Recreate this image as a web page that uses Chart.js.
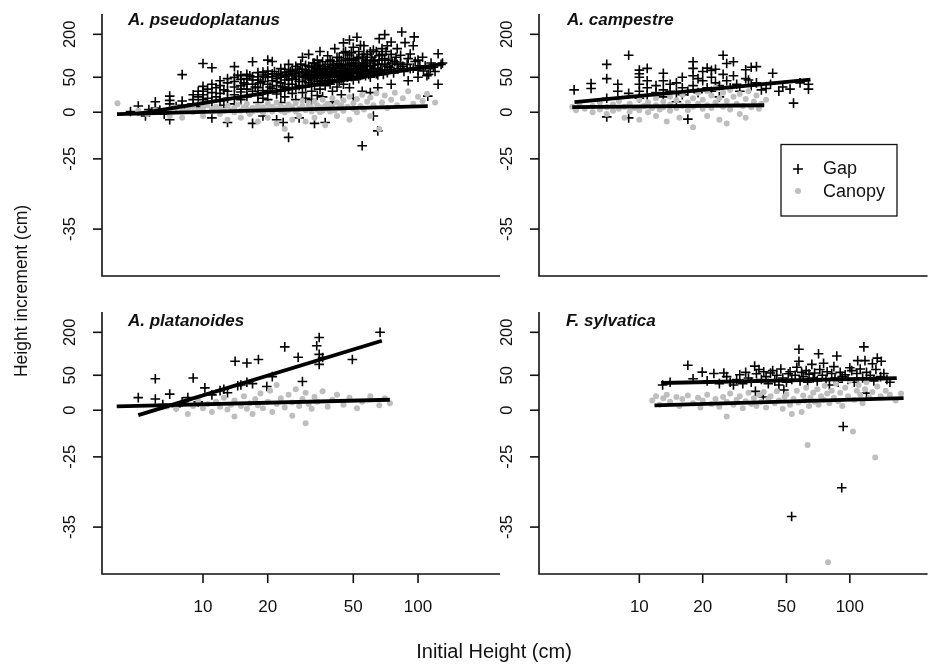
<!DOCTYPE html>
<html><head><meta charset="utf-8">
<script src="https://cdn.jsdelivr.net/npm/chart.js@4.4.1/dist/chart.umd.min.js"></script>
<style>
html,body{margin:0;padding:0;background:#fff;overflow:hidden}
#wrap{position:relative;width:932px;height:668px}
canvas{position:absolute;left:0;top:0}
</style>
</head><body><div id="wrap">
<canvas id="c0" width="932" height="668"></canvas>
<canvas id="c1" width="932" height="668"></canvas>
<canvas id="c2" width="932" height="668"></canvas>
<canvas id="c3" width="932" height="668"></canvas>
</div>
<script>
// ---------- data (x = initial height cm, y = height increment cm) ----------
const SPECIES = ['A. pseudoplatanus', 'A. campestre', 'A. platanoides', 'F. sylvatica'];
const SERIES = ['Gap', 'Canopy'];
const Y_TICKS = [200, 50, 0, -25, -35];
const X_TICKS = [10, 20, 50, 100];
const X_TITLE = 'Initial Height (cm)';
const Y_TITLE = 'Height increment (cm)';

const gapPseudo = [
[4.6,1],[5,9],[5.4,-2],[5.6,4],[6,15],[6,6],[6.3,3],[6.6,-1],[7,23],[7,17],[7,12],[7,-4],[7.5,8],[8,59],[8,16],[8,10],[8.5,6],[9,25],[9,18],[9,12],[9.5,30],[9.5,22],[9.5,8],
[10,98],[10,37],[10,30],[10,25],[10,18],[10,12],[10.5,33],[10.5,20],[11,83],[11,40],[11,28],[11,15],[11,-3],[11.5,35],[11.5,22],[12,45],[12,38],[12,27],[12,16],[12.5,32],[12.5,10],[13,48],[13,42],[13,30],[13,20],[13,-5.5],
[14,87],[14,50],[14,44],[14,36],[14,25],[14,12],[15,55],[15,47],[15,38],[15,29],[15,18],[15.5,42],[16,60],[16,48],[16,33],[16,22],[16,5],[17,104],[17,52],[17,40],[17,30],[17,-6],[18,66],[18,46],[18,35],[18,24],[18,14],[19,58],[19,44],[19,31],[19,20],[19,-2],
[20,110],[20,72],[20,51],[20,40],[20,30],[20,18],[21,105],[21,62],[21,45],[21,34],[22,56],[22,48],[22,38],[22,26],[22,-4],[23,80],[23,58],[23,42],[23,30],[23,14],[23.6,-5.5],[24,68],[24,52],[24,36],[24,22],[25,-13.5],[25,95],[25,60],[25,46],[25,33],[26,75],[26,55],[26,40],[26,27],[27,88],[27,63],[27,47],[27,35],[27,18],[28,70],[28,52],[28,38],[28,-3],[29,120],[29,78],[29,58],[29,44],[29,28],
[30,92],[30,65],[30,50],[30,36],[30,20],[31,130],[31,72],[31,55],[31,42],[32,84],[32,60],[32,46],[32,30],[32,18],[33,100],[33,68],[33,52],[33,38],[33,-6],[34,110],[34,76],[34,57],[34,44],[34,24],[35,140],[35,90],[35,64],[35,48],[35,33],[36,82],[36,60],[36,45],[36,22],[37,-5.5],[37,70],[37,52],[37,38],[38,125],[38,95],[38,66],[38,50],[39,78],[39,58],[39,40],[40,105],[40,85],[40,62],[40,46],[40,30],[40,15],[41,150],[41,72],[41,55],[42,98],[42,68],[42,50],[42,36],[43,118],[43,80],[43,60],[43,44],[44,88],[44,64],[44,48],[44,25],[45,170],[45,135],[45,75],[45,56],[45,40],
[46,110],[46,82],[46,62],[47,95],[47,68],[47,50],[48,180],[48,128],[48,78],[48,58],[48,35],[49,100],[49,72],[49,52],[50,155],[50,88],[50,64],[50,46],[50,20],[52,190],[52,115],[52,80],[52,58],[53,140],[53,92],[53,68],[53,48],[54,162],[55,-18],[55,120],[55,85],[55,62],[55,30],[56,160],[56,98],[56,72],[57,108],[57,78],[57,55],[58,130],[58,88],[60,139],[60,100],[60,70],[60,50],[60,28],[62,-2],[62,145],[62,92],[62,66],[63,110],[65,-10],[65,80],[65,58],[65,35],[66,185],[66,125],[66,70],[68,150],[68,95],[70,199],[70,115],[70,75],
[72,160],[72,88],[75,173],[75,130],[75,78],[75,40],[78,105],[80,150],[80,95],[83,127],[84,208],[85,88],[87,171],[90,115],[90,45],[92,131],[95,160],[96,191],[95,82],[100,75],[100,110],[100,50],[105,120],[108,90],[110,55],[111,23],[112,60],[115,100],[118,85],[120,70],[124,132],[124,40],[128,95],[130,100],
[14.5,58],[15,33],[16,40],[16.5,55],[17,46],[17.5,36],[18,52],[18.5,42],[19,68],[19.5,50],[20,60],[20.5,36],[21,52],[21.5,70],[22,44],[22.5,62],[23,50],[23.5,36],[24,78],[24,46],[24.5,58],[25,40],[25.5,70],[26,48],[26.5,62],[27,54],[27.5,78],[28,44],[28.5,96],[29,66],[29.5,50],[30,76],[30.5,58],[31,88],[31.5,48],[32,70],[32.5,100],[33,60],[33.5,80],[34,50],[34.5,92],[35,72],[35.5,56],[36,104],[36.5,68],[37,88],[37.5,60],[38,78],[38.5,46],[39,110],[39.5,70],[40,54],[40.5,92],[41,64],[41.5,82],[42,120],[42.5,58],[43,96],[43.5,70],[44,108],[44.5,54],[45,90],[46,140],[46,72],[47,115],[47,58],[48,92],[49,135],[49,64],[50,110],[51,78],[51,98],[52,66],[53,120],[54,86],[54,56],[55,100],[56,130],[56,62],[57,92],[58,75],[58,110],[59,60],[60,88],[61,120],[61,70],[62,105],[63,80],[64,140],[64,62],[65,96],[66,110],[67,76],[68,130],[69,60],[70,95],[71,140],[72,66],[73,110],[74,85],[76,100],[77,65],[79,120],[81,80],[83,100],[86,70],[89,95],[92,80],[97,105],[102,90],[106,72],[114,80]
];
const canopyPseudo = [
[4,13],[5,2],[5.5,-1],[6,3],[6.5,1],[7,-2],[7,4],[7.5,6],[8,2],[8,-3],[8.5,5],[9,8],[9,0],[9.5,3],[10,6],[10,-2],[10.5,10],[11,1],[11,4],[11.5,8],[12,-1],[12,5],[12.5,2],[13,9],[13,-4],[13.5,3],[14,6],[14,0],[14.5,11],[15,2],[15,-3],[15.5,7],[16,4],[16,12],[16.5,-1],[17,6],[17,1],[18,9],[18,-5],[18,3],[19,7],[19,0],[20,12],[20,4],[20,-3],[21,8],[21,1],[22,-6],[22,5],[22,14],[23,2],[23,9],[24,-9],[24,6],[24,0],[25,11],[25,3],[26,-4],[26,7],[27,13],[27,1],[28,5],[28,-2],[29,9],[29,16],[30,3],[30,-5],[31,8],[31,12],[32,1],[32,6],[33,15],[33,-3],[34,4],[34,10],[35,7],[35,0],[36,18],[36,2],[37,-7],[37,9],[38,5],[38,12],[39,1],[40,8],[40,20],[41,3],[42,14],[42,-2],[43,6],[44,10],[45,17],[45,2],[47,8],[48,22],[48,-4],[50,5],[50,13],[52,19],[52,0],[54,9],[55,25],[56,4],[58,15],[60,-2],[60,21],[62,10],[64,27],[66,-9],[68,14],[70,24],[72,6],[75,18],[78,28],[80,10],[85,20],[90,30],[95,12],[100,22],[105,16],[110,26],[120,14]
];
const gapCampestre = [
[4.9,32],[5.9,41],[5.9,34],[7,95],[7,48],[7,20],[7,-2.5],[7.9,40],[7.9,30],[8.9,127],[8.9,27],[8.9,-3],[10,75],[10,62],[10,50],[10,40],[10,30],[10,20],[10.9,81],[10.9,45],[10.9,35],[10.9,25],[12,38],[12,28],[13,64],[13,45],[13,32],[13,22],[14,40],[14,30],[15,42],[15,28],[15,15],[16,50],[16,35],[16,25],[17,-3.7],[17,30],[18,104],[18,81],[18,55],[18,38],[19,48],[19,28],[20,70],[20,45],[21,82],[21,35],[22,74],[22,50],[22,30],[23,78],[23,42],[24,38],[24,22],[25,127],[25,60],[26,98],[26,45],[27,35],[28,104],[28,55],[29,40],[30,30],[32,76],[32,48],[33,46],[34,85],[34,38],[36,87],[36,42],[38,32],[40,34],[42,40],[43,64],[46,30],[48,36],[52,33],[54,13],[58,42],[63.6,40],[63.6,33]
];
const canopyCampestre = [
[4.8,8],[5,3],[5.2,12],[5.5,5],[6,0],[6,9],[6.5,14],[6.5,4],[7,-1],[7,7],[7.5,11],[7.5,2],[8,16],[8,5],[8.5,-3],[8.5,8],[9,12],[9,1],[9.5,6],[10,18],[10,3],[10,-4],[10.5,9],[11,14],[11,0],[11.5,6],[12,20],[12,-2],[12,10],[12.5,4],[13,15],[13,7],[13.5,-5],[14,22],[14,11],[14,2],[15,17],[15,6],[15.5,-3],[16,25],[16,9],[17,14],[17,3],[18,-8],[18,20],[18,8],[19,28],[19,12],[20,5],[20,18],[21,-2],[21,30],[21,10],[22,24],[22,6],[23,35],[23,14],[24,-4],[24,20],[25,8],[25,28],[26,-6],[26,16],[27,32],[27,4],[28,22],[29,12],[30,26],[30,-1],[31,9],[32,-3],[32,19],[33,30],[34,7],[35,15],[36,24],[37,5],[38,12],[40,18]
];
const gapPlatanoides = [
[5,18],[6,45],[6,16],[6.5,8],[7,23],[7.5,5],[8,12],[8.5,18],[9,46],[9.5,12],[10.2,32],[11,22],[12,28],[12.5,30],[13,25],[14.1,99],[14.5,35],[15,36],[16,93],[16,40],[17,38],[18.1,105],[19.8,34],[21,48],[24,149],[27.7,113],[29,41],[33.8,153],[34.7,182],[34.7,123],[34.7,88],[36,112],[49.5,105],[66.6,200]
];
const canopyPlatanoides = [
[6.8,5],[7.5,2],[8,10],[8.5,-2],[9,6],[9.5,14],[10,3],[10.5,9],[11,-1],[11.5,12],[12,5],[12.5,18],[13,1],[13.5,8],[14,-3.3],[14,14],[15,6],[15.5,20],[16,2],[16.5,10],[17,-2],[17.5,16],[18,7],[18.5,24],[19,3],[20,12],[20.5,28],[21,-1],[22,9],[22,36],[23,17],[24,4],[25,22],[26,-3],[26,11],[27,30],[28,6],[29,16],[30,-7],[30,25],[31,9],[32,2],[33,19],[34,12],[36,27],[38,5],[40,15],[42,22],[45,8],[48,18],[52,3],[55,12],[60,20],[66,7],[70,17],[74,10]
];
const gapSylvatica = [
[12.9,36],[14,40],[17,85],[18,45],[19.9,61],[21,42],[22.6,56],[24,38],[25.2,58],[26,48],[27,40],[28,36],[29,44],[30,52],[31,38],[32,60],[33,46],[34,40],[35.3,82],[35.6,27],[36,55],[37,70],[38,44],[38.8,19],[39,62],[40,48],[41,38],[42,58],[43,66],[44,42],[45,50],[46,36],[47,72],[48,46],[48.6,29],[50,40],[51,55],[52,62],[52.9,-33.5],[53,44],[55,50],[56,78],[57.3,141],[57.3,99],[58,42],[59,60],[60,48],[62,66],[63,40],[64,54],[66,88],[67,46],[68,58],[70,42],[71,125],[72,70],[74,50],[75,92],[77,44],[78,62],[80,36],[82,56],[84,80],[85,46],[86.7,117],[88,40],[90,60],[91.5,-29.4],[92,48],[93,-8.7],[95,52],[98,44],[100,76],[102,66],[105,40],[108,56],[109,101],[112,72],[115,46],[116.6,149],[118,101],[120,24.5],[120,60],[125,50],[128,90],[130,42],[133,70],[135,110],[140,48],[141,99],[145,56],[150,44],[155,40]
];
const canopySylvatica = [
[11.5,14],[12,20],[12.5,8],[13,17],[13.5,22],[14,12],[15,19],[15.5,6],[16,16],[17,21],[18,10],[19,18],[19.5,4],[20,14],[21,22],[22,9],[23,16],[24,5],[25,19],[26,-3.3],[26,12],[27,24],[28,8],[29,15],[30,20],[31,3],[32,13],[33,25],[34,9],[35,17],[36,6],[37,22],[38,12],[39,26],[40,4],[41,16],[42,20],[44,10],[45,27],[46,14],[48,2],[49,19],[50,23],[52,8],[53,-2],[54,16],[56,28],[57,11],[59,-1],[60,21],[61,14],[62,32],[63,-18.7],[64,6],[65,18],[67,25],[68,12],[70,30],[71,8],[73,20],[75,15],[76,35],[78,24],[78.8,-40],[80,10],[82,28],[84,18],[86,38],[88,13],[90,25],[92,6],[95,32],[98,20],[100,42],[103.5,-11.4],[105,15],[108,28],[110,36],[112,22],[115,10],[118,30],[120,40],[124,18],[128,26],[132,-25.1],[135,34],[140,20],[148,28],[155,22],[165,14],[175,24]
];
// fitted lines (endpoints)
const fitGapPseudo = [[4.93,-0.9],[130.6,97]];
const fitCanopyPseudo = [[3.98,-1],[111,8.8]];
const fitGapCampestre = [[4.92,14.4],[65,46.6]];
const fitCanopyCampestre = [[4.8,7.3],[39.2,10]];
const fitGapPlatanoides = [[5.0,-2.6],[67.9,170.5]];
const fitCanopyPlatanoides = [[3.97,5.6],[74,15]];
const fitGapSylvatica = [[12.7,38.9],[167,46]];
const fitCanopySylvatica = [[11.8,7],[180,17.4]];

// ---------- layout / style (not data) ----------
const TICK_POS = {'-35': 17.7, '-25': 44.2, '0': 61.8, '50': 75.0, '200': 91.2}; // axis units 0..100
const FONT = '"Liberation Sans", Arial, sans-serif';
const GREY = '#bebebe';

const WV = Y_TICKS.slice().sort((a,b)=>a-b);
const WP = WV.map(v => TICK_POS[String(v)]);
function seg(arr, v){ if (v <= arr[1]) return 0; if (v >= arr[arr.length-2]) return arr.length-2; for (let i=1;i<arr.length-2;i++) if (v < arr[i+1]) return i; return arr.length-2; }
function warp(v){ const i = seg(WV, v); return WP[i] + (v - WV[i]) * (WP[i+1]-WP[i]) / (WV[i+1]-WV[i]); }
function unwarp(p){ const i = seg(WP, p); return WV[i] + (p - WP[i]) * (WV[i+1]-WV[i]) / (WP[i+1]-WP[i]); }

class WarpScale extends Chart.LinearScale {
  getPixelForValue(v) { return v === null || v === undefined ? NaN : super.getPixelForValue(warp(v)); }
  getValueForPixel(p) { return unwarp(super.getValueForPixel(p)); }
}
WarpScale.id = 'warp';
WarpScale.defaults = Chart.LinearScale.defaults;
Chart.register(WarpScale);

function text(ctx, s, x, y, font, align, base, rot) {
  ctx.save();
  ctx.translate(x, y);
  if (rot) ctx.rotate(rot);
  ctx.font = font; ctx.textAlign = align; ctx.textBaseline = base; ctx.fillStyle = '#111';
  ctx.fillText(s, 0, 0);
  ctx.restore();
}
function drawCross(ctx, x, y, r, lw) {
  ctx.save(); ctx.strokeStyle = '#000'; ctx.lineWidth = lw;
  ctx.beginPath(); ctx.moveTo(x - r, y); ctx.lineTo(x + r, y); ctx.moveTo(x, y - r); ctx.lineTo(x, y + r); ctx.stroke();
  ctx.restore();
}

const panelPlugin = {
  id: 'panel',
  afterDraw(chart, args, o) {
    const ctx = chart.ctx, a = chart.chartArea, xs = chart.scales.x, ys = chart.scales.y;
    ctx.save();
    ctx.strokeStyle = '#111'; ctx.lineWidth = 1.6;
    ctx.beginPath();
    ctx.moveTo(a.left, a.top + 3); ctx.lineTo(a.left, a.bottom); ctx.lineTo(a.right + 2, a.bottom);
    ctx.stroke();
    Y_TICKS.forEach(v => {
      const py = ys.getPixelForValue(v);
      ctx.beginPath(); ctx.moveTo(a.left - 9, py); ctx.lineTo(a.left, py); ctx.stroke();
      text(ctx, String(v), a.left - 32, py, '16.5px ' + FONT, 'center', 'middle', -Math.PI / 2);
    });
    if (o.xTicks) {
      X_TICKS.forEach(v => {
        const px = xs.getPixelForValue(v);
        ctx.beginPath(); ctx.moveTo(px, a.bottom); ctx.lineTo(px, a.bottom + 9); ctx.stroke();
        text(ctx, String(v), px, a.bottom + 33, '17px ' + FONT, 'center', 'middle');
      });
    }
    text(ctx, o.title, o.titleX, o.titleY, 'italic bold 17px ' + FONT, 'left', 'alphabetic');
    if (o.legend) {
      ctx.lineWidth = 1.3; ctx.strokeStyle = '#111';
      ctx.strokeRect(781, 144.5, 116, 71.5);
      drawCross(ctx, 798, 169, 5, 1.6);
      ctx.fillStyle = GREY; ctx.beginPath(); ctx.arc(798, 191, 3, 0, Math.PI * 2); ctx.fill();
      text(ctx, SERIES[0], 823, 169, '18px ' + FONT, 'left', 'middle');
      text(ctx, SERIES[1], 823, 192, '18px ' + FONT, 'left', 'middle');
    }
    if (o.globalTitles) {
      text(ctx, X_TITLE, 494, 652, '20px ' + FONT, 'center', 'middle');
      text(ctx, Y_TITLE, 22, 291, '17.5px ' + FONT, 'center', 'middle', -Math.PI / 2);
    }
    ctx.restore();
  }
};

const pts = arr => arr.map(p => ({x: p[0], y: p[1]}));

function makePanel(id, gap, canopy, fitGap, fitCanopy, pad, xr, opts) {
  new Chart(document.getElementById(id), {
    type: 'scatter',
    data: { datasets: [
      { label: 'fit ' + SERIES[0], data: pts(fitGap), showLine: true, borderColor: '#000', borderWidth: 3.8, pointRadius: 0, order: 0 },
      { label: 'fit ' + SERIES[1], data: pts(fitCanopy), showLine: true, borderColor: '#000', borderWidth: 3.8, pointRadius: 0, order: 0 },
      { label: SERIES[1], data: pts(canopy), pointStyle: 'circle', pointRadius: 3, pointBackgroundColor: GREY, backgroundColor: GREY, pointBorderWidth: 0, borderWidth: 0, order: 1 },
      { label: SERIES[0], data: pts(gap), pointStyle: 'cross', pointRadius: 4.8, pointBorderColor: '#000', borderColor: '#000', pointBorderWidth: 1.6, borderWidth: 1.6, order: 2 }
    ]},
    options: {
      responsive: false, animation: false, devicePixelRatio: 1, events: [],
      layout: { padding: pad },
      plugins: { legend: { display: false }, tooltip: { enabled: false }, panel: opts },
      scales: {
        x: { type: 'logarithmic', min: xr[0], max: xr[1], display: false },
        y: { type: 'warp', min: 0, max: 100, display: false }
      }
    },
    plugins: [panelPlugin]
  });
}

makePanel('c0', gapPseudo, canopyPseudo, fitGapPseudo, fitCanopyPseudo,
  {left: 102, right: 434, top: 11, bottom: 392}, [3.39, 235.5],
  {title: SPECIES[0], titleX: 128, titleY: 25, xTicks: false, legend: false, globalTitles: true});
makePanel('c1', gapCampestre, canopyCampestre, fitGapCampestre, fitCanopyCampestre,
  {left: 539, right: 0, top: 11, bottom: 392}, [3.337, 229],
  {title: SPECIES[1], titleX: 567, titleY: 25, xTicks: false, legend: true, globalTitles: false});
makePanel('c2', gapPlatanoides, canopyPlatanoides, fitGapPlatanoides, fitCanopyPlatanoides,
  {left: 102, right: 434, top: 309, bottom: 94}, [3.39, 235.5],
  {title: SPECIES[2], titleX: 128, titleY: 326, xTicks: true, legend: false, globalTitles: false});
makePanel('c3', gapSylvatica, canopySylvatica, fitGapSylvatica, fitCanopySylvatica,
  {left: 539, right: 0, top: 309, bottom: 94}, [3.337, 229],
  {title: SPECIES[3], titleX: 566, titleY: 326, xTicks: true, legend: false, globalTitles: false});
</script>
</body></html>
